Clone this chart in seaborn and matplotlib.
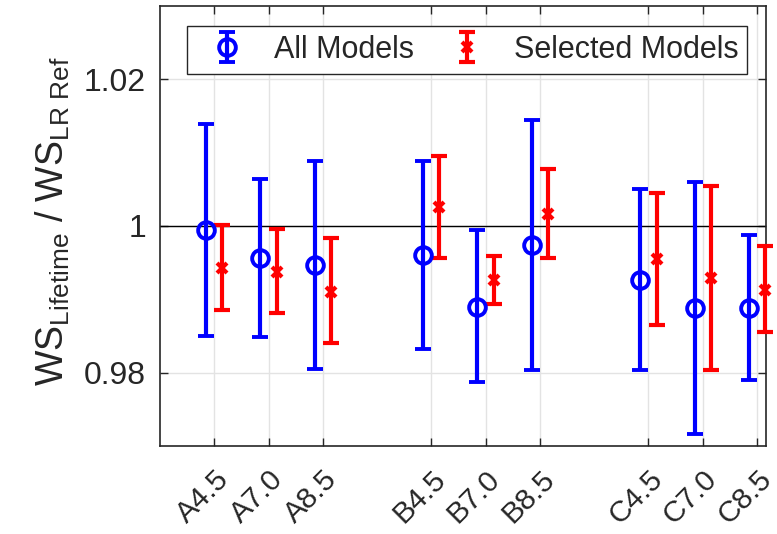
import numpy as np
import seaborn as sns
import matplotlib
matplotlib.use('Agg')
import matplotlib.pyplot as plt
import matplotlib.transforms as mtrans

# Values
labels = ['A4.5', 'A7.0', 'A8.5', 'B4.5', 'B7.0', 'B8.5', 'C4.5', 'C7.0', 'C8.5']
positions = [1, 2, 3, 5, 6, 7, 9, 10, 11]

all_mid = [0.99945, 0.99558, 0.99467, 0.99604, 0.98898, 0.99736, 0.99262, 0.98875, 0.98875]
all_low = [0.98497, 0.98479, 0.98042, 0.98315, 0.97869, 0.98033, 0.98033, 0.97168, 0.97896]
all_high = [1.01393, 1.00642, 1.00888, 1.00888, 0.99945, 1.01448, 1.00505, 1.00592, 0.99877]

sel_mid = [0.99422, 0.99367, 0.99103, 1.00255, 0.99262, 1.00159, 0.99545, 0.99285, 0.99126]
sel_low = [0.98852, 0.98807, 0.98397, 0.99558, 0.98934, 0.99558, 0.98643, 0.98033, 0.98547]
sel_high = [1.00014, 0.99954, 0.99832, 1.00947, 0.99590, 1.00779, 1.00446, 1.00546, 0.99727]

sns.set_theme(style='ticks')
plt.rcParams['font.family'] = ['Liberation Sans', 'DejaVu Sans']
plt.rcParams['mathtext.fontset'] = 'custom'
plt.rcParams['mathtext.rm'] = 'Liberation Sans'
plt.rcParams['mathtext.it'] = 'Liberation Sans'

fig = plt.figure(figsize=(7.77, 5.34), dpi=100)
ax = fig.add_axes([0.206, 0.165, 0.78, 0.824])

pos = np.array(positions, dtype=float)
a_mid = np.array(all_mid)
s_mid = np.array(sel_mid)
a_err = [a_mid - np.array(all_low), np.array(all_high) - a_mid]
s_err = [s_mid - np.array(sel_low), np.array(sel_high) - s_mid]

ax.axhline(1.0, color='black', lw=1.0, zorder=1)

eb1 = ax.errorbar(pos - 0.15, a_mid, yerr=a_err, fmt='o', color='blue', ecolor='blue',
                  mfc='none', mec='blue', ms=12, mew=2.8, elinewidth=3, capsize=6,
                  capthick=3, label='All Models', zorder=3)
eb2 = ax.errorbar(pos + 0.15, s_mid, yerr=s_err, fmt='x', color='red', ecolor='red',
                  mec='red', ms=7, mew=3, elinewidth=3, capsize=6,
                  capthick=3, label='Selected Models', zorder=3)
for art in eb2.get_children():
    art.set_clip_on(False)

ax.set_xlim(0, 11.17)
ax.set_ylim(0.97, 1.03)
ax.set_xticks(positions)
ax.set_xticklabels(labels, rotation=45, ha='right', va='center',
                   rotation_mode='anchor', fontsize=21.5)
ax.set_yticks([0.98, 1.0, 1.02])
ax.set_yticklabels(['0.98', '1', '1.02'], fontsize=23)
ax.tick_params(direction='in', length=6, width=1, top=True, right=True,
               color='#262626', labelcolor='#262626')
ax.tick_params(axis='y', pad=10)
ax.tick_params(axis='x', pad=21)
shift = mtrans.ScaledTranslation(0.10, 0, fig.dpi_scale_trans)
for lab in ax.get_xticklabels():
    lab.set_transform(lab.get_transform() + shift)

ax.grid(True, color='#e3e3e3', lw=1)
ax.set_axisbelow(True)
for sp in ax.spines.values():
    sp.set_visible(True)
    sp.set_color('#262626')
    sp.set_linewidth(1.2)

ax.set_ylabel(r'WS$_{\mathrm{Lifetime}}$ / WS$_{\mathrm{LR\ Ref}}$', fontsize=27,
              color='#262626')
ax.yaxis.set_label_coords(-0.145, 0.51)

leg = ax.legend(loc='upper right', bbox_to_anchor=(0.969, 0.955), ncol=2,
                fontsize=22, frameon=True, fancybox=False, edgecolor='#262626',
                framealpha=1, handlelength=2.0, columnspacing=0.75, handletextpad=0.52,
                borderpad=0.3, borderaxespad=0)
leg.get_frame().set_linewidth(1.0)

fig.savefig('out.png', dpi=100)
